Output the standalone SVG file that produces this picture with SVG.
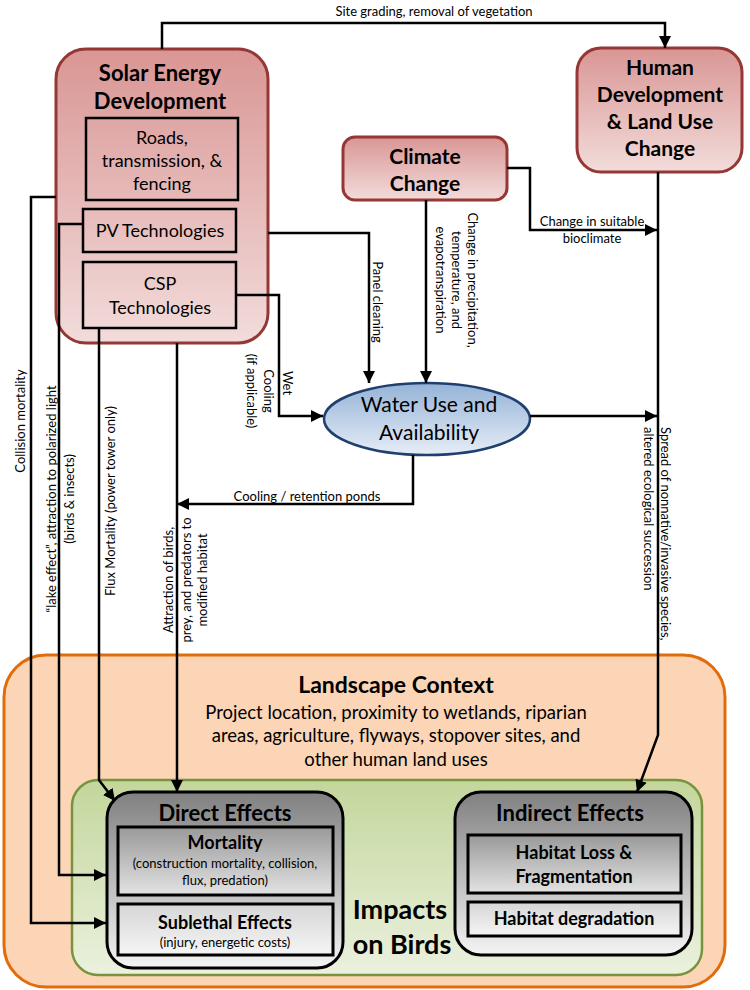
<svg xmlns="http://www.w3.org/2000/svg" width="750" height="990" viewBox="0 0 750 990">
<defs>
<linearGradient id="gRed" x1="0" y1="0" x2="0" y2="1"><stop offset="0" stop-color="#d99694"/><stop offset="1" stop-color="#f2dcdb"/></linearGradient>
<linearGradient id="gBlue" x1="0" y1="0" x2="0" y2="1"><stop offset="0" stop-color="#95b3d7"/><stop offset="1" stop-color="#e6edf7"/></linearGradient>
<linearGradient id="gGreen" x1="0" y1="0" x2="0" y2="1"><stop offset="0" stop-color="#c3d69b"/><stop offset="1" stop-color="#ebf1de"/></linearGradient>
<linearGradient id="gGray" x1="0" y1="0" x2="0" y2="1"><stop offset="0" stop-color="#808080"/><stop offset="1" stop-color="#f4f4f4"/></linearGradient>
<linearGradient id="gGray2" x1="0" y1="0" x2="0" y2="1"><stop offset="0" stop-color="#999999"/><stop offset="1" stop-color="#e3e3e3"/></linearGradient>
<linearGradient id="gGray3" x1="0" y1="0" x2="0" y2="1"><stop offset="0" stop-color="#d6d6d6"/><stop offset="1" stop-color="#f5f5f5"/></linearGradient>
<marker id="arr" markerUnits="userSpaceOnUse" markerWidth="12" markerHeight="12" viewBox="0 0 10 10" refX="10" refY="5" orient="auto"><path d="M0,0 L10,5 L0,10 z" fill="#000"/></marker>
<style>
text{font-family:Lato,"Liberation Sans",sans-serif;fill:#000}
.t{font-weight:bold;font-size:22px;text-anchor:middle}
.n{font-size:18px;text-anchor:middle}
.s{font-size:13px}
.m{text-anchor:middle}
.red{fill:url(#gRed);stroke:#953735;stroke-width:3}
.inner{fill:none;stroke:#000;stroke-width:2.5}
.ca{fill:none;stroke:#000;stroke-width:2.5;marker-end:url(#arr)}
.bx{stroke:#000;stroke-width:3}
</style>
</defs>

<g id="landscape">
<rect x="4" y="655" width="721" height="332" rx="42" fill="#fbd5b5" stroke="#e36c0a" stroke-width="3"/>
<text class="t" x="396" y="693" style="font-size:23px">Landscape Context</text>
<text class="n" x="396" y="719" style="font-size:18.5px">Project location, proximity to wetlands, riparian</text>
<text class="n" x="396" y="742" style="font-size:18.5px">areas,  agriculture, flyways, stopover sites, and</text>
<text class="n" x="396" y="766" style="font-size:18.5px">other human land uses</text>
</g>

<g id="impacts">
<rect x="72" y="780" width="630" height="195" rx="26" fill="url(#gGreen)" stroke="#77933c" stroke-width="2.5"/>
<text class="t" x="400" y="919" style="font-size:27px">Impacts</text>
<text class="t" x="402" y="954" style="font-size:27px">on Birds</text>
</g>

<g id="direct">
<rect class="bx" x="107" y="792" width="236" height="176" rx="26" fill="url(#gGray)"/>
<text class="t" x="225" y="821">Direct Effects</text>
<rect class="bx" x="118" y="827" width="215" height="68" fill="url(#gGray2)"/>
<text class="t" x="225" y="849" style="font-size:18px">Mortality</text>
<text class="s m" x="225" y="868">(construction mortality, collision,</text>
<text class="s m" x="225" y="885">flux, predation)</text>
<rect class="bx" x="118" y="904" width="215" height="51" fill="url(#gGray3)"/>
<text class="t" x="225" y="929" style="font-size:18px">Sublethal Effects</text>
<text class="s m" x="225" y="947">(injury, energetic costs)</text>
</g>

<g id="indirect">
<rect class="bx" x="455" y="792" width="237" height="163" rx="26" fill="url(#gGray)"/>
<text class="t" x="570" y="821">Indirect Effects</text>
<rect class="bx" x="468" y="835" width="213" height="58" fill="url(#gGray2)"/>
<text class="t" x="574" y="859" style="font-size:18px">Habitat Loss &amp;</text>
<text class="t" x="574" y="883" style="font-size:18px">Fragmentation</text>
<rect class="bx" x="468" y="902" width="213" height="34" fill="url(#gGray3)"/>
<text class="t" x="574" y="925" style="font-size:18px">Habitat degradation</text>
</g>

<g id="solar">
<rect class="red" x="56" y="49" width="212" height="294" rx="30"/>
<text class="t" x="160" y="81">Solar Energy</text>
<text class="t" x="160" y="109">Development</text>
<rect class="inner" x="86" y="118" width="152" height="82"/>
<text class="n" x="162" y="144">Roads,</text>
<text class="n" x="162" y="167">transmission, &amp;</text>
<text class="n" x="162" y="190">fencing</text>
<rect class="inner" x="83" y="209" width="153" height="43"/>
<text class="n" x="160" y="237">PV Technologies</text>
<rect class="inner" x="83" y="262" width="153" height="66"/>
<text class="n" x="160" y="290">CSP</text>
<text class="n" x="160" y="314">Technologies</text>
</g>

<g id="climate">
<rect class="red" x="343" y="137" width="164" height="63" rx="12"/>
<text class="t" x="425" y="164" style="font-size:21px">Climate</text>
<text class="t" x="425" y="191" style="font-size:21px">Change</text>
</g>

<g id="human">
<rect class="red" x="577" y="48" width="165" height="124" rx="24"/>
<text class="t" x="660" y="75" style="font-size:21px">Human</text>
<text class="t" x="660" y="102" style="font-size:21px">Development</text>
<text class="t" x="660" y="129" style="font-size:21px">&amp; Land Use</text>
<text class="t" x="660" y="156" style="font-size:21px">Change</text>
</g>

<g id="water">
<ellipse cx="427" cy="419" rx="103" ry="36" fill="url(#gBlue)" stroke="#1f3f6e" stroke-width="2.5"/>
<text class="n" x="429" y="412" style="font-size:21px">Water Use and</text>
<text class="n" x="429" y="440" style="font-size:21px">Availability</text>
</g>

<g id="connectors">
<path class="ca" d="M162,49 V23 H665 V48"/>
<path class="ca" d="M268,233 H369 V383"/>
<path class="ca" d="M236,295 H279 V416 H323"/>
<path class="ca" d="M426,200 V383"/>
<path class="ca" d="M507,168 H530 V230 H657"/>
<path class="ca" d="M658,172 V735 L637,792"/>
<path class="ca" d="M530,416 H657"/>
<path class="ca" d="M413,455 V504 H177"/>
<path class="ca" d="M177,343 V792"/>
<path class="ca" d="M99,328 V780 L115,801"/>
<path class="ca" d="M83,224 H59 V875 H106"/>
<path class="ca" d="M56,197 H31 V923 H106"/>

<text class="s m" x="434" y="16">Site grading, removal of vegetation</text>
<text class="s m" x="592" y="226">Change in suitable</text>
<text class="s m" x="592" y="243">bioclimate</text>
<text class="s m" x="307" y="501">Cooling / retention ponds</text>

<g transform="translate(377,302) rotate(90)"><text class="s m" x="0" y="4">Panel cleaning</text></g>
<g transform="translate(456,280) rotate(90)">
<text class="s m" x="0" y="-12">Change in precipitation,</text>
<text class="s m" x="0" y="4">temperature,  and</text>
<text class="s m" x="0" y="20">evapotranspiration</text>
</g>
<g transform="translate(268,391) rotate(90)">
<text class="s m" x="-8" y="-15">Wet</text>
<text class="s m" x="0" y="4">Cooling</text>
<text class="s m" x="0" y="21">(if applicable)</text>
</g>
<g transform="translate(656,427) rotate(90)">
<text class="s" x="0" y="-5">Spread of nonnative/invasive species,</text>
<text class="s" x="0" y="12">altered ecological succession</text>
</g>
<g transform="translate(21,421) rotate(-90)"><text class="s m" x="0" y="4">Collision  mortality</text></g>
<g transform="translate(61,499) rotate(-90)">
<text class="s m" x="0" y="-5">“lake effect”,  attraction  to polarized light</text>
<text class="s m" x="0" y="13">(birds &amp; insects)</text>
</g>
<g transform="translate(111,501) rotate(-90)"><text class="s m" x="0" y="4">Flux  Mortality (power tower only)</text></g>
<g transform="translate(186,580) rotate(-90)">
<text class="s m" x="0" y="-13">Attraction of birds,</text>
<text class="s m" x="0" y="5">prey, and predators to</text>
<text class="s m" x="0" y="21">modified habitat</text>
</g>
</g>
</svg>
